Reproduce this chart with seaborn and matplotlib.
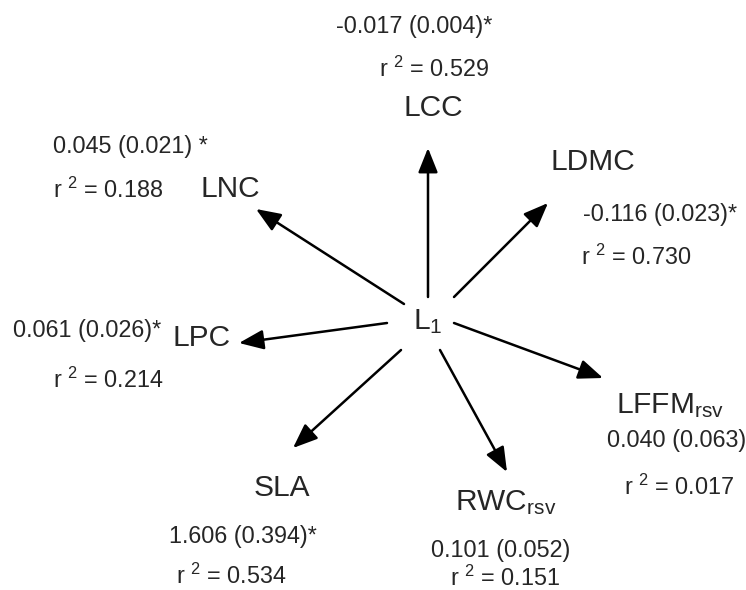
import matplotlib
matplotlib.use("Agg")
import matplotlib.pyplot as plt
import seaborn as sns

# Path coefficients of the latent factor L1 on each leaf trait
traits = ["LCC", "LDMC", "LNC", "LPC", "LFFM", "SLA", "RWC"]
trait_subscripts = ["", "", "", "", "rsv", "", "rsv"]
estimates = ["-0.017", "-0.116", "0.045", "0.061", "0.040", "1.606", "0.101"]
std_errors = ["0.004", "0.023", "0.021", "0.026", "0.063", "0.394", "0.052"]
significant = [True, True, True, True, False, True, False]
r_squared = ["0.529", "0.730", "0.188", "0.214", "0.017", "0.534", "0.151"]
latent_name = "L"
latent_sub = "1"

# Diagram layout in pixel space (x right, y down)
layout = {
    #          tail        head        trait label   coef label    r2 label    star gap
    "LCC":  ((428, 297), (428, 148), (433, 108), (414, 27),  (434, 69),  ""),
    "LDMC": ((454, 297), (548, 203), (593, 162), (660, 214), (636, 257), ""),
    "LNC":  ((404, 304), (256, 209), (230, 189), (130, 147), (108, 190), " "),
    "LPC":  ((387, 323), (239, 343), (202, 338), (87, 330),  (108, 380), ""),
    "LFFM": ((454, 323), (603, 378), (670, 406), (677, 441), (679, 487), ""),
    "SLA":  ((401, 350), (293, 448), (282, 488), (243, 537), (231, 576), ""),
    "RWC":  ((440, 350), (507, 472), (506, 503), (501, 550), (505, 578), ""),
}
latent_pos = (428, 322)

sns.set_theme(style="white")
plt.rcParams["font.family"] = ["Liberation Sans", "DejaVu Sans"]
plt.rcParams["mathtext.fontset"] = "custom"
plt.rcParams["mathtext.rm"] = "Liberation Sans"
plt.rcParams["mathtext.it"] = "Liberation Sans"
plt.rcParams["mathtext.default"] = "regular"

fig = plt.figure(figsize=(7.46, 5.90), dpi=100)
ax = fig.add_axes([0, 0, 1, 1])
ax.set_xlim(0, 746)
ax.set_ylim(590, 0)
ax.axis("off")
sns.despine(ax=ax, left=True, bottom=True)

name_size = 21.5
num_size = 16.8

ax.text(*latent_pos, f"{latent_name}$_{{{latent_sub}}}$", fontsize=name_size,
        ha="center", va="center")

for name, sub, est, se, sig, r2 in zip(traits, trait_subscripts, estimates,
                                       std_errors, significant, r_squared):
    tail, head, pos_name, pos_coef, pos_r2, gap = layout[name]
    ax.annotate("", xy=head, xytext=tail,
                arrowprops=dict(arrowstyle="-|>,head_length=0.75,head_width=0.3",
                                lw=1.8, color="black", mutation_scale=20,
                                shrinkA=0, shrinkB=0))
    label = name if not sub else f"{name}$_{{{sub}}}$"
    ax.text(*pos_name, label, fontsize=name_size, ha="center", va="center")
    coef = f"{est} ({se})" + (gap + "*" if sig else "")
    ax.text(*pos_coef, coef, fontsize=num_size, ha="center", va="center")
    ax.text(*pos_r2, f"r $^{{2}}$ = {r2}", fontsize=num_size, ha="center", va="center")

fig.savefig("out.png", dpi=100, facecolor="white")
